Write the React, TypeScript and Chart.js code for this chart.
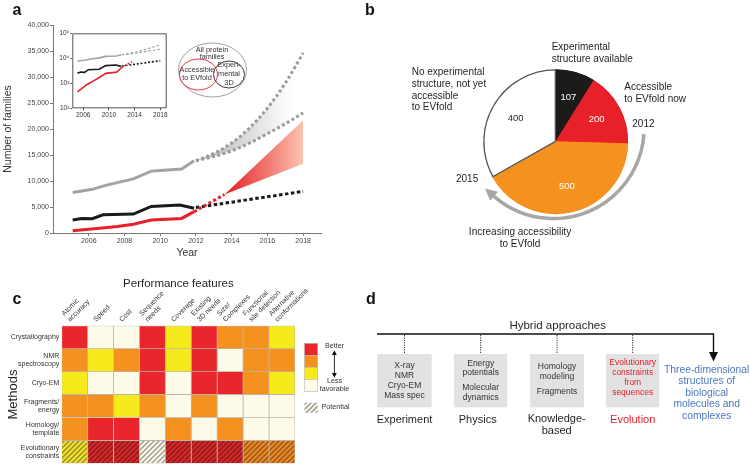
import React, { useEffect, useRef } from 'react';
import { Chart, registerables } from 'chart.js';

Chart.register(...registerables);

const FONT = '"Liberation Sans", Arial, Helvetica, sans-serif';
Chart.defaults.font.family = FONT;
Chart.defaults.color = '#333';

// ---------------- Panel a: number of protein families ----------------
const grayYears = [2005.1, 2006.2, 2007.0, 2008.5, 2009.5, 2010.0, 2011.2, 2011.9];
const allFamilies = [7800, 8400, 9200, 10400, 11900, 12000, 12300, 13900];
const blackYears = [2005.1, 2005.6, 2006.2, 2006.8, 2008.5, 2009.5, 2011.1, 2011.9];
const experimentalFamilies = [2500, 2800, 2750, 3500, 3650, 5100, 5400, 4750];
const redYears = [2005.1, 2006.6, 2007.6, 2008.5, 2009.5, 2011.2, 2011.9];
const evfoldFamilies = [450, 900, 1250, 1700, 2500, 2800, 4100];

const projYears = [2012, 2013, 2014, 2015, 2016, 2017, 2018];
const allHighProj = [13900, 15300, 17300, 20200, 24000, 28800, 34600];
const allLowProj = [13900, 14700, 15800, 17300, 19100, 21000, 23100];
const expProjYears = [2012, 2018];
const expProj = [4900, 8000];
const evfoldProjYears = [2011.9, 2013.6];
const evfoldProj = [4100, 7400];
const evfoldFanYears = [2013.6, 2018];
const evfoldFanHigh = [7400, 21700];
const evfoldFanLow = [7400, 13300];

const yearTicks = [2006, 2008, 2010, 2012, 2014, 2016, 2018];
const familyTicks = [0, 5000, 10000, 15000, 20000, 25000, 30000, 35000, 40000];
const insetYearTicks = [2006, 2010, 2014, 2018];
const insetLogTicks = [100, 1000, 10000, 100000];
const insetLogLabels = ['10²', '10³', '10⁴', '10⁵'];

// ---------------- Panel b: pie ----------------
const pieLabels = [
  'Experimental structure available',
  'Accessible to EVfold now',
  'Increasing accessibility to EVfold',
  'No experimental structure, not yet accessible to EVfold',
];
const pieValues = [107, 200, 500, 400];
const pieColors = ['#1d1a1a', '#e8202a', '#f5921f', '#ffffff'];
const pieTextColors = ['#ffffff', '#ffffff', '#ffffff', '#231f20'];

// ---------------- Panel c: heatmap ----------------
const featureLabels = [
  ['Atomic', 'accuracy'], 'Speed', 'Cost', ['Sequence', 'needs'], 'Coverage',
  ['Existing', '3D needs'], ['Size/', 'Complexes'], ['Functional', 'site detection'],
  ['Alternative', 'conformations'],
];
const methodLabels = [
  'Crystallography', ['NMR', 'spectroscopy'], 'Cryo-EM', ['Fragments/', 'energy'],
  ['Homology/', 'template'], ['Evolutionary', 'constraints'],
];
// 3 = better (red), 2 = orange, 1 = yellow, 0 = less favorable (white)
const crystallography = [3, 0, 0, 3, 1, 3, 2, 2, 1];
const nmrSpectroscopy = [2, 1, 2, 3, 1, 3, 0, 2, 2];
const cryoEM = [1, 0, 0, 3, 0, 3, 3, 2, 1];
const fragmentsEnergy = [2, 2, 1, 2, 0, 2, 0, 0, 0];
const homologyTemplate = [2, 3, 3, 0, 2, 0, 2, 0, 0];
const evolutionaryConstraints = [1, 3, 3, 0, 3, 3, 3, 2, 2];
const methodRows = [crystallography, nmrSpectroscopy, cryoEM, fragmentsEnergy, homologyTemplate, evolutionaryConstraints];
const potentialRows = [false, false, false, false, false, true];
const heatColors = ['#fefbe8', '#f6ea1c', '#f5921f', '#e8262b'];
const hatchBg = ['#fbf8ee', '#f2e42c', '#ee8b24', '#d9272b'];
const hatchStripe = ['#a39d92', '#9a8c2a', '#94561c', '#8a1c1c'];

const pts = (xs: number[], ys: number[]) => xs.map((x, i) => ({ x, y: ys[i] }));

function Txt(props: { x: number; y: number; lines: string[]; size: number; lh?: number; align?: string; color?: string; weight?: number }) {
  const { x, y, lines, size, align = 'left', color = '#231f20', weight = 400 } = props;
  const L = props.lh ?? size * 1.2;
  const tr = align === 'center' ? 'translateX(-50%)' : align === 'right' ? 'translateX(-100%)' : undefined;
  return (
    <div style={{ position: 'absolute', left: x, top: y - L / 2, fontSize: size, lineHeight: L + 'px', textAlign: align as any, color, fontWeight: weight, whiteSpace: 'nowrap', transform: tr }}>
      {lines.map((l, i) => <div key={i}>{l}</div>)}
    </div>
  );
}

function gradientFill(x0v: number, x1v: number, c0: string, c1: string, stop1 = 1) {
  return (c: any) => {
    const chart = c.chart;
    const { chartArea, scales } = chart;
    if (!chartArea) return 'rgba(0,0,0,0)';
    const x0 = scales.x.getPixelForValue(x0v);
    const x1 = scales.x.getPixelForValue(x1v);
    const g = chart.ctx.createLinearGradient(x0, 0, x1, 0);
    g.addColorStop(0, c0);
    g.addColorStop(stop1, c1);
    if (stop1 < 1) g.addColorStop(1, c1);
    return g;
  };
}

const NONE = 'rgba(0,0,0,0)';

function PanelA() {
  const ref = useRef<HTMLCanvasElement>(null);
  useEffect(() => {
    const W = 330, H = 264, L = 53, T = 25, R = 321, B = 233;
    const line = (data: any, color: string, width: number, extra: any = {}) => ({
      data, borderColor: color, borderWidth: width, pointRadius: 0, fill: false, tension: 0, ...extra,
    });
    const chart = new Chart(ref.current!, {
      type: 'line',
      data: {
        datasets: [
          line(pts(grayYears, allFamilies), '#a3a3a3', 3),
          line(pts(blackYears, experimentalFamilies), '#1a1a1a', 3),
          line(pts(redYears, evfoldFamilies), '#e8202a', 3),
          line(pts(projYears, allHighProj), '#9c9c9c', 3, { borderDash: [3, 2.5], cubicInterpolationMode: 'monotone' }),
          line(pts(projYears, allLowProj), '#9c9c9c', 3, {
            borderDash: [3, 2.5], cubicInterpolationMode: 'monotone', fill: '-1',
            backgroundColor: gradientFill(projYears[0], projYears[projYears.length - 1], '#b3b3b3', '#ffffff', 0.9),
          }),
          line(pts(evfoldFanYears, evfoldFanHigh), NONE, 1),
          line(pts(evfoldFanYears, evfoldFanLow), NONE, 1, {
            fill: '-1',
            backgroundColor: gradientFill(evfoldFanYears[0], evfoldFanYears[1], '#e41e26', '#fbc4ae'),
          }),
          line(pts(evfoldProjYears, evfoldProj), '#e8202a', 3, { borderDash: [3, 2.5] }),
          line(pts(expProjYears, expProj), '#1a1a1a', 3, { borderDash: [3.5, 2.5] }),
        ],
      },
      options: {
        responsive: false, animation: false, events: [],
        layout: { padding: { top: T, right: W - R, left: 0, bottom: 0 } },
        plugins: { legend: { display: false }, tooltip: { enabled: false } },
        scales: {
          x: {
            type: 'linear', min: 2004, max: 2019,
            afterBuildTicks: (s: any) => { s.ticks = yearTicks.map((v) => ({ value: v })); },
            afterFit: (s: any) => { s.height = H - B; },
            ticks: { callback: (v: any) => String(v), font: { size: 7 }, color: '#444', padding: 1, maxRotation: 0, autoSkip: false },
            grid: { display: true, drawOnChartArea: false, drawTicks: true, tickLength: 3, color: '#777' },
            border: { display: true, color: '#777', width: 1 },
            title: { display: true, text: 'Year', font: { size: 10.5 }, color: '#333', padding: { top: 0, bottom: 4.7 } },
          },
          y: {
            type: 'linear', min: 0, max: 40000,
            afterBuildTicks: (s: any) => { s.ticks = familyTicks.map((v) => ({ value: v })); },
            afterFit: (s: any) => { s.width = L; },
            ticks: { callback: (v: any) => Number(v).toLocaleString('en-US'), font: { size: 7 }, color: '#444', padding: 1 },
            grid: { display: true, drawOnChartArea: false, drawTicks: true, tickLength: 3, color: '#777' },
            border: { display: true, color: '#777', width: 1 },
            title: { display: true, text: 'Number of families', font: { size: 10.5 }, color: '#333', padding: { top: 2, bottom: 0 } },
          },
        },
      } as any,
    } as any);
    return () => chart.destroy();
  }, []);
  return <canvas ref={ref} width={330} height={264} style={{ position: 'absolute', left: 0, top: 0, width: 330, height: 264 }} />;
}

function Inset() {
  const ref = useRef<HTMLCanvasElement>(null);
  useEffect(() => {
    const W = 116, H = 96, L = 16.3, T = 7.3, R = 110.7, B = 82.3;
    const line = (data: any, color: string, width: number, extra: any = {}) => ({
      data, borderColor: color, borderWidth: width, pointRadius: 0, fill: false, tension: 0, ...extra,
    });
    const boxPlugin = {
      id: 'insetBox',
      afterDraw(chart: any) {
        const { ctx, chartArea: a } = chart;
        ctx.save();
        ctx.strokeStyle = '#555';
        ctx.lineWidth = 1;
        ctx.strokeRect(a.left + 0.5, a.top + 0.5, a.right - a.left - 1, a.bottom - a.top - 1);
        ctx.restore();
      },
    };
    const chart = new Chart(ref.current!, {
      type: 'line',
      data: {
        datasets: [
          line(pts(grayYears, allFamilies), '#a3a3a3', 1.6),
          line(pts(blackYears, experimentalFamilies), '#1a1a1a', 1.6),
          line(pts(redYears, evfoldFamilies), '#e8202a', 1.6),
          line(pts(projYears, allHighProj), '#a0a0a0', 1.2, { borderDash: [2.5, 2] }),
          line(pts(projYears, allLowProj), '#a0a0a0', 1.2, { borderDash: [2.5, 2] }),
          line(pts(evfoldProjYears, evfoldProj), '#e8202a', 1.6, { borderDash: [2, 1.8] }),
          line(pts(expProjYears, expProj), '#1a1a1a', 1.6, { borderDash: [2, 1.8] }),
        ],
      },
      options: {
        responsive: false, animation: false, events: [],
        layout: { padding: { top: T, right: W - R, left: 0, bottom: 0 } },
        plugins: { legend: { display: false }, tooltip: { enabled: false } },
        scales: {
          x: {
            type: 'linear', min: 2004.3, max: 2019,
            afterBuildTicks: (s: any) => { s.ticks = insetYearTicks.map((v) => ({ value: v })); },
            afterFit: (s: any) => { s.height = H - B; },
            ticks: { callback: (v: any) => String(v), font: { size: 6.5 }, color: '#333', padding: 1, maxRotation: 0, autoSkip: false },
            grid: { display: true, drawOnChartArea: false, drawTicks: true, tickLength: 2, color: '#555' },
            border: { display: false },
          },
          y: {
            type: 'logarithmic', min: 100, max: 100000,
            afterBuildTicks: (s: any) => { s.ticks = insetLogTicks.map((v) => ({ value: v })); },
            afterFit: (s: any) => { s.width = L; },
            ticks: { callback: (v: any) => insetLogLabels[insetLogTicks.indexOf(Number(v))], font: { size: 6.5 }, color: '#333', padding: 1 },
            grid: { display: true, drawOnChartArea: false, drawTicks: true, tickLength: 2, color: '#555' },
            border: { display: false },
          },
        },
      } as any,
      plugins: [boxPlugin],
    } as any);
    return () => chart.destroy();
  }, []);
  return <canvas ref={ref} width={116} height={96} style={{ position: 'absolute', left: 56, top: 26, width: 116, height: 96 }} />;
}

function PanelB() {
  const ref = useRef<HTMLCanvasElement>(null);
  useEffect(() => {
    const pieDecor = {
      id: 'pieDecor',
      afterDatasetsDraw(chart: any) {
        const ctx = chart.ctx;
        const meta = chart.getDatasetMeta(0);
        meta.data.forEach((arc: any, i: number) => {
          const mid = (arc.startAngle + arc.endAngle) / 2;
          const r = arc.outerRadius * 0.64;
          ctx.save();
          ctx.font = `9.5px ${FONT}`;
          ctx.fillStyle = pieTextColors[i];
          ctx.textAlign = 'center';
          ctx.textBaseline = 'middle';
          ctx.fillText(String(pieValues[i]), arc.x + r * Math.cos(mid), arc.y + r * Math.sin(mid));
          ctx.restore();
        });
        const a0: any = meta.data[0];
        const R = a0.outerRadius;
        const cx = a0.x - 0.03 * R, cy = a0.y - 0.19 * R, rr = 1.25 * R;
        const s = (4 * Math.PI) / 180, e = (131 * Math.PI) / 180;
        ctx.save();
        ctx.strokeStyle = '#a7a7a7';
        ctx.lineWidth = 3.5;
        ctx.beginPath();
        ctx.arc(cx, cy, rr, s, e);
        ctx.stroke();
        const ex = cx + rr * Math.cos(e), ey = cy + rr * Math.sin(e);
        const tx = -Math.sin(e), ty = Math.cos(e);
        const nx = Math.cos(e), ny = Math.sin(e);
        const hl = 12, hw = 6;
        ctx.fillStyle = '#a7a7a7';
        ctx.beginPath();
        ctx.moveTo(ex + tx * hl, ey + ty * hl);
        ctx.lineTo(ex + nx * hw, ey + ny * hw);
        ctx.lineTo(ex - nx * hw, ey - ny * hw);
        ctx.closePath();
        ctx.fill();
        ctx.restore();
      },
    };
    const chart = new Chart(ref.current!, {
      type: 'pie',
      data: {
        labels: pieLabels,
        datasets: [{
          data: pieValues,
          backgroundColor: pieColors,
          borderColor: ['#1d1a1a', '#e8202a', '#f5921f', '#555555'],
          borderWidth: 1,
          borderAlign: 'inner',
        }],
      },
      options: {
        responsive: false, animation: false, events: [],
        layout: { padding: { left: 103.2, right: 121.8, top: 69.2, bottom: 55.8 } },
        plugins: { legend: { display: false }, tooltip: { enabled: false } },
      } as any,
      plugins: [pieDecor],
    } as any);
    return () => chart.destroy();
  }, []);
  return <canvas ref={ref} width={370} height={270} style={{ position: 'absolute', left: 380, top: 0, width: 370, height: 270 }} />;
}

function PanelC() {
  const ref = useRef<HTMLCanvasElement>(null);
  useEffect(() => {
    const cv = ref.current!;
    const ctx2 = cv.getContext('2d')!;
    const makeHatch = (bg: string, stripe: string) => {
      const s = 5;
      const c = document.createElement('canvas');
      c.width = s; c.height = s;
      const g = c.getContext('2d')!;
      g.fillStyle = bg; g.fillRect(0, 0, s, s);
      g.strokeStyle = stripe; g.lineWidth = 1.5;
      g.beginPath();
      g.moveTo(-1, s + 1); g.lineTo(s + 1, -1);
      g.moveTo(-1, 1); g.lineTo(1, -1);
      g.moveTo(s - 1, s + 1); g.lineTo(s + 1, s - 1);
      g.stroke();
      return ctx2.createPattern(c, 'repeat');
    };
    const hatches = hatchBg.map((bg, i) => makeHatch(bg, hatchStripe[i]));
    const L = 61.7, T = 55.7, W = 330, R = 295, H = 200, B = 198.3;
    const chart = new Chart(cv, {
      type: 'bar',
      data: {
        labels: featureLabels,
        datasets: methodRows.map((row, r) => ({
          label: String(methodLabels[r]),
          data: row.map(() => 1),
          backgroundColor: row.map((v) => (potentialRows[r] ? hatches[v] : heatColors[v])),
          borderColor: 'rgba(185,176,164,0.9)',
          borderWidth: 0.8,
          borderSkipped: false,
          barPercentage: 1,
          categoryPercentage: 1,
          yAxisID: 'y',
        })),
      },
      options: {
        responsive: false, animation: false, events: [],
        layout: { padding: { top: 0, left: 0, right: W - R, bottom: H - B } },
        plugins: { legend: { display: false }, tooltip: { enabled: false } },
        scales: {
          x: {
            type: 'category', position: 'top', stacked: true, offset: true,
            grid: { display: false, drawTicks: false }, border: { display: false },
            ticks: { minRotation: 45, maxRotation: 45, autoSkip: false, padding: 2, font: { size: 7 }, color: '#333' },
            title: { display: true, text: 'Performance features', font: { size: 11.5 }, color: '#231f20', padding: { top: 7, bottom: 0 } },
            afterFit: (s: any) => { s.height = T; },
          },
          y: { type: 'linear', stacked: true, reverse: true, min: 0, max: methodRows.length, display: false },
          rows: {
            type: 'category', position: 'left', labels: methodLabels, offset: true,
            grid: { display: false, drawTicks: false }, border: { display: false },
            ticks: { font: { size: 7 }, color: '#333', padding: 2.4, autoSkip: false },
            title: { display: true, text: 'Methods', font: { size: 13 }, color: '#231f20', padding: { top: 5.2, bottom: 0 } },
            afterFit: (s: any) => { s.width = L; },
          },
        },
      } as any,
    } as any);
    return () => chart.destroy();
  }, []);
  return <canvas ref={ref} width={330} height={200} style={{ position: 'absolute', left: 0, top: 270, width: 330, height: 200 }} />;
}

function Overlay() {
  const boxes = [
    { x: 377.3, w: 54.4 },
    { x: 454, w: 53.3 },
    { x: 530, w: 54 },
    { x: 606, w: 53.3 },
  ];
  return (
    <svg width={750} height={470} style={{ position: 'absolute', left: 0, top: 0 }}>
      <defs>
        <pattern id="potHatch" width="3.5" height="3.5" patternUnits="userSpaceOnUse" patternTransform="rotate(45)">
          <rect width="3.5" height="3.5" fill="#fbf8ee" />
          <rect width="1.6" height="3.5" fill="#a09a90" />
        </pattern>
      </defs>
      {/* Venn diagram */}
      <ellipse cx={212.5} cy={70} rx={34} ry={27} fill="none" stroke="#8a8a8a" strokeWidth={0.8} />
      <ellipse cx={198.5} cy={74.5} rx={19} ry={15.5} fill="none" stroke="#e8202a" strokeWidth={0.9} />
      <ellipse cx={229} cy={74.5} rx={15.5} ry={13.5} fill="none" stroke="#222" strokeWidth={0.9} />
      {/* Panel c legend */}
      {[3, 2, 1, 0].map((v, i) => (
        <rect key={v} x={304.5} y={343.3 + i * 12} width={13.2} height={12} fill={heatColors[v]} stroke="#bdb6aa" strokeWidth={0.6} />
      ))}
      <rect x={304.5} y={402.7} width={13.2} height={10} fill="url(#potHatch)" />
      <line x1={334.4} y1={353} x2={334.4} y2={375} stroke="#111" strokeWidth={0.9} />
      <polygon points="332,355 336.8,355 334.4,350.3" fill="#111" />
      <polygon points="332,373 336.8,373 334.4,377.7" fill="#111" />
      {/* Panel d */}
      <line x1={377} y1={334} x2={713.5} y2={334} stroke="#111" strokeWidth={1.4} />
      <line x1={713.5} y1={333.3} x2={713.5} y2={353} stroke="#111" strokeWidth={1.4} />
      <polygon points="709,352 718,352 713.5,361.5" fill="#111" />
      {boxes.map((b, i) => (
        <g key={i}>
          <line x1={b.x + b.w / 2} y1={335} x2={b.x + b.w / 2} y2={354} stroke="#333" strokeWidth={1} strokeDasharray="1.2 1.2" />
          <rect x={b.x} y={354} width={b.w} height={53.3} fill="#e2e2e2" />
        </g>
      ))}
    </svg>
  );
}

export default function App() {
  const dark = '#231f20';
  return (
    <div style={{ position: 'absolute', left: 0, top: 0, width: 750, height: 470, background: '#fff', overflow: 'hidden', fontFamily: FONT }}>
      <PanelA />
      <Inset />
      <PanelB />
      <PanelC />
      <Overlay />
      {/* panel labels */}
      <Txt x={12.5} y={9.5} lines={['a']} size={16} weight={700} color="#111" />
      <Txt x={365} y={9.5} lines={['b']} size={16} weight={700} color="#111" />
      <Txt x={12.5} y={298.3} lines={['c']} size={16} weight={700} color="#111" />
      <Txt x={366} y={298.3} lines={['d']} size={16} weight={700} color="#111" />
      {/* Venn text */}
      <Txt x={212} y={49.5} lines={['All protein', 'families']} size={7.3} lh={7.8} align="center" color="#333" />
      <Txt x={197} y={70} lines={['Accessible', 'to EVfold']} size={7.3} lh={8} align="center" color="#333" />
      <Txt x={229} y={64.5} lines={['Experi-', 'mental', '3D']} size={7.3} lh={9.3} align="center" color="#333" />
      {/* Panel b annotations */}
      <Txt x={551.7} y={46.7} lines={['Experimental', 'structure available']} size={10} lh={12.3} color={dark} />
      <Txt x={411.7} y={71.7} lines={['No experimental', 'structure, not yet', 'accessible', 'to EVfold']} size={10} lh={11.9} color={dark} />
      <Txt x={624.3} y={87.3} lines={['Accessible', 'to EVfold now']} size={10} lh={11.7} color={dark} />
      <Txt x={632.3} y={124.3} lines={['2012']} size={10} color={dark} />
      <Txt x={456} y={179.3} lines={['2015']} size={10} color={dark} />
      <Txt x={520} y={231.7} lines={['Increasing accessibility', 'to EVfold']} size={10} lh={11.7} align="center" color={dark} />
      {/* Panel c legend text */}
      <Txt x={325} y={346.7} lines={['Better']} size={7.2} color="#333" />
      <Txt x={334.5} y={381} lines={['Less', 'favorable']} size={7.2} lh={8.6} align="center" color="#333" />
      <Txt x={321.5} y={407.7} lines={['Potential']} size={7.2} color="#333" />
      {/* Panel d */}
      <Txt x={557.7} y={326} lines={['Hybrid approaches']} size={11.5} align="center" color={dark} />
      <Txt x={404.5} y={365} lines={['X-ray', 'NMR', 'Cryo-EM', 'Mass spec']} size={8.5} lh={10} align="center" color="#333" />
      <Txt x={480.7} y={363.3} lines={['Energy', 'potentials']} size={8.5} lh={9.6} align="center" color="#333" />
      <Txt x={480.7} y={387.3} lines={['Molecular', 'dynamics']} size={8.5} lh={10} align="center" color="#333" />
      <Txt x={557} y={366} lines={['Homology', 'modeling']} size={8.5} lh={10} align="center" color="#333" />
      <Txt x={557} y={391.3} lines={['Fragments']} size={8.5} align="center" color="#333" />
      <Txt x={632.7} y={362} lines={['Evolutionary', 'constraints', 'from', 'sequences']} size={8.5} lh={10} align="center" color="#e8202a" />
      <Txt x={404.5} y={419.3} lines={['Experiment']} size={11} align="center" color={dark} />
      <Txt x={477.7} y={419.3} lines={['Physics']} size={11} align="center" color={dark} />
      <Txt x={556.7} y={419.3} lines={['Knowledge-', 'based']} size={11} lh={11.7} align="center" color={dark} />
      <Txt x={632.7} y={419.3} lines={['Evolution']} size={11} align="center" color="#e8202a" />
      <Txt x={706.7} y={369.3} lines={['Three-dimensional', 'structures of', 'biological', 'molecules and', 'complexes']} size={10.3} lh={11.6} align="center" color="#4a78c0" />
    </div>
  );
}
